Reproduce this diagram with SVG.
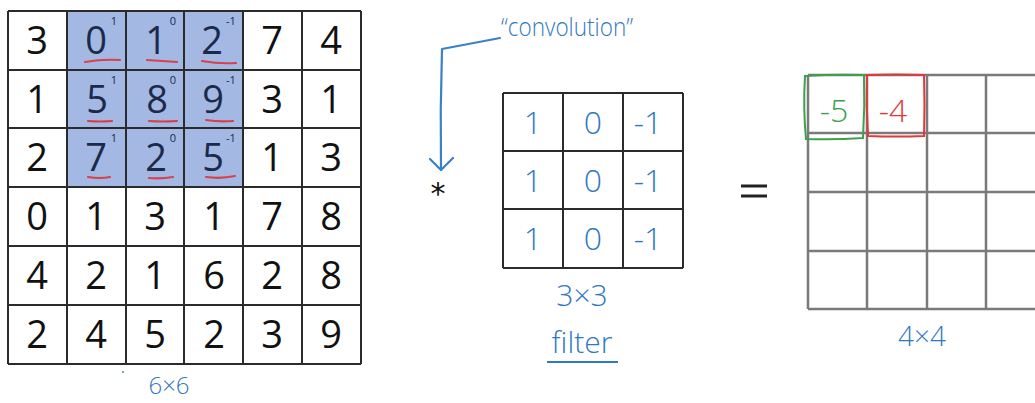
<svg xmlns="http://www.w3.org/2000/svg" width="1035" height="403" viewBox="0 0 1035 403">
<style>
.grid{stroke:#2b2b2b;stroke-width:2;fill:none}
.ogrid{stroke:#7a7a7a;stroke-width:2.5;fill:none}
.num{font-family:"Open Sans","Liberation Sans",sans-serif;font-size:38px;fill:#111;text-anchor:middle}
.hnum{font-family:"Open Sans","Liberation Sans",sans-serif;font-size:38px;fill:#1b2a4a;text-anchor:middle}
.sup{font-family:"Open Sans","Liberation Sans",sans-serif;font-size:11px;fill:#1b2a4a;text-anchor:middle}
.ul{stroke:#d9404a;stroke-width:2.2;fill:none;stroke-linecap:round}
.hand{font-family:"Open Sans","Liberation Sans",sans-serif;font-weight:300;fill:#2f78c4;text-anchor:middle}
.conn{stroke:#3a82c8;stroke-width:2.2;fill:none;stroke-linecap:round;stroke-linejoin:round}
</style>
<rect width="1035" height="403" fill="#ffffff"/>

<g id="input-6x6">
  <rect x="67" y="11" width="176" height="176" fill="#a3b8e2"/>
  <path class="grid" d="M8 11H361M8 70H361M8 128H361M8 187H361M8 246H361M8 305H361M8 364H361M8 11V364M67 11V364M126 11V364M184 11V364M243 11V364M302 11V364M361 11V364"/>
  <g class="num">
    <text x="37" y="54">3</text><text x="272" y="54">7</text><text x="331" y="54">4</text>
    <text x="37" y="113">1</text><text x="272" y="113">3</text><text x="331" y="113">1</text>
    <text x="37" y="171">2</text><text x="272" y="171">1</text><text x="331" y="171">3</text>
    <text x="37" y="230">0</text><text x="96" y="230">1</text><text x="155" y="230">3</text><text x="214" y="230">1</text><text x="272" y="230">7</text><text x="331" y="230">8</text>
    <text x="37" y="289">4</text><text x="96" y="289">2</text><text x="155" y="289">1</text><text x="214" y="289">6</text><text x="272" y="289">2</text><text x="331" y="289">8</text>
    <text x="37" y="348">2</text><text x="96" y="348">4</text><text x="155" y="348">5</text><text x="214" y="348">2</text><text x="272" y="348">3</text><text x="331" y="348">9</text>
  </g>
  <g class="hnum">
    <text x="96" y="54">0</text><text x="156" y="54">1</text><text x="212" y="54">2</text>
    <text x="97" y="113">5</text><text x="157" y="113">8</text><text x="213" y="113">9</text>
    <text x="96" y="171">7</text><text x="156" y="171">2</text><text x="213" y="171">5</text>
  </g>
  <g class="sup">
    <text x="114" y="25">1</text><text x="173" y="25">0</text><text x="231" y="25">-1</text>
    <text x="114" y="84">1</text><text x="173" y="84">0</text><text x="231" y="84">-1</text>
    <text x="114" y="142">1</text><text x="173" y="142">0</text><text x="231" y="142">-1</text>
  </g>
  <path class="ul" d="M85 62Q102 59 120 60M147 60Q162 61 177 62M202 61Q219 64 236 63M88 121Q100 122 112 121M149 121Q163 122 177 121M206 120Q219 122 233 121M88 177Q100 179 110 177M149 178Q161 179 173 177M206 177Q221 179 235 176"/>
  <circle cx="123" cy="372" r="0.9" fill="#2f78c4"/>
  <text class="hand" x="169" y="394" font-size="24">6×6</text>
</g>

<g id="convolution-label">
  <text class="hand" x="567" y="36" font-size="26" textLength="132" lengthAdjust="spacingAndGlyphs">“convolution”</text>
</g>

<g id="operator-star">
  <text x="438" y="204" font-family="DejaVu Sans,sans-serif" font-size="30" fill="#111" text-anchor="middle">*</text>
</g>

<g id="filter-3x3">
  <path class="grid" d="M503 93H683M503 151H683M503 209H683M503 268H683M503 93V268M563 93V268M623 93V268M683 93V268"/>
  <g class="hand" font-size="32">
    <text x="533" y="134">1</text><text x="593" y="134">0</text><text x="648" y="134">-1</text>
    <text x="533" y="192">1</text><text x="593" y="192">0</text><text x="648" y="192">-1</text>
    <text x="533" y="250">1</text><text x="593" y="250">0</text><text x="648" y="250">-1</text>
  </g>
  <text class="hand" x="582" y="306" font-size="30">3×3</text>
  <text class="hand" x="582" y="353" font-size="30">filter</text>
  <path d="M547 362H618" stroke="#2f78c4" stroke-width="2.2" fill="none"/>
</g>

<g id="operator-equals">
  <path d="M741 186H767M741 196H767" stroke="#222" stroke-width="3.2"/>
</g>

<g id="output-4x4">
  <path class="ogrid" d="M808 75H1035M808 133H1035M808 192H1035M808 251H1035M808 309H1035M808 75V309M867 75V309M927 75V309M986 75V309"/>
  <path d="M805 76Q834 74 864 75Q865 106 863 138Q834 140 806 139Q803 108 805 76Z" fill="none" stroke="#3ea04c" stroke-width="2"/>
  <path d="M867 75Q895 74 924 75Q925 105 924 136Q896 137 868 136Q866 105 867 75Z" fill="none" stroke="#e0393b" stroke-width="2"/>
  <text class="hand" x="834" y="122" font-size="32" style="fill:#3ea04c">-5</text>
  <text class="hand" x="893" y="122" font-size="32" style="fill:#e0393b">-4</text>
  <text class="hand" x="922" y="346" font-size="28">4×4</text>
</g>

<g id="connectors">
  <path class="conn" d="M500 38L442 49Q440 110 441 170"/>
  <path class="conn" d="M430 159L441 170L453 158"/>
</g>
</svg>
